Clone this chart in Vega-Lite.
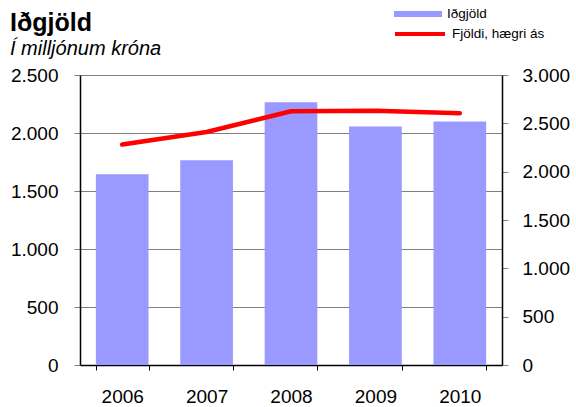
{
  "$schema": "https://vega.github.io/schema/vega-lite/v6.json",
  "width": 422,
  "height": 290,
  "autosize": {"type": "none"},
  "padding": {"left": 80, "top": 75, "right": 74, "bottom": 42},
  "background": "white",
  "config": {
    "view": {"stroke": null},
    "font": "Liberation Sans",
    "axis": {"labelFont": "Liberation Sans", "labelFontSize": 19, "labelColor": "black"},
    "legend": {"labelFont": "Liberation Sans", "labelColor": "black"}
  },
  "title": {
    "text": "Iðgjöld",
    "subtitle": "Í milljónum króna",
    "anchor": "start",
    "frame": "group",
    "dx": -70,
    "dy": 73,
    "offset": 4,
    "font": "Liberation Sans",
    "fontSize": 25,
    "fontWeight": "bold",
    "color": "black",
    "subtitleFont": "Liberation Sans",
    "subtitleFontSize": 20,
    "subtitleFontStyle": "italic",
    "subtitleColor": "black",
    "subtitlePadding": 3
  },
  "data": {
    "values": [
      {"year": "2006", "idgjold": 1645, "fjoldi": 2280},
      {"year": "2007", "idgjold": 1765, "fjoldi": 2410},
      {"year": "2008", "idgjold": 2265, "fjoldi": 2625},
      {"year": "2009", "idgjold": 2055, "fjoldi": 2630},
      {"year": "2010", "idgjold": 2100, "fjoldi": 2605}
    ]
  },
  "encoding": {
    "x": {
      "field": "year",
      "type": "ordinal",
      "scale": {"paddingInner": 0.376, "paddingOuter": 0.188},
      "axis": {
        "title": null,
        "labelAngle": 0,
        "tickBand": "extent",
        "domainColor": "black",
        "domainWidth": 1.5,
        "tickColor": "black",
        "tickSize": 5,
        "labelPadding": 17,
        "grid": false
      }
    }
  },
  "layer": [
    {
      "mark": {"type": "bar", "color": "#9999FF"},
      "encoding": {
        "y": {
          "field": "idgjold",
          "type": "quantitative",
          "scale": {"domain": [0, 2500], "nice": false},
          "axis": {
            "title": null,
            "values": [0, 500, 1000, 1500, 2000, 2500],
            "grid": true,
            "gridColor": "#808080",
            "gridWidth": 1,
            "domainColor": "black",
            "domainWidth": 1.5,
            "tickColor": "#808080",
            "tickSize": 6,
            "labelPadding": 16,
            "labelExpr": "replace(format(datum.value, ','), ',', '.')"
          }
        },
        "color": {
          "datum": "Iðgjöld",
          "type": "nominal",
          "scale": {"range": ["#9999FF"]},
          "legend": {
            "orient": "none",
            "legendX": 314,
            "legendY": -85,
            "title": null,
            "symbolType": "M-1,-0.125H1V0.125H-1Z",
            "symbolSize": 2304,
            "symbolStrokeWidth": 0,
            "labelFontSize": 13.5,
            "labelOffset": 5,
            "padding": 0
          }
        }
      }
    },
    {
      "mark": {"type": "line", "strokeWidth": 4.5, "strokeCap": "round", "strokeJoin": "round"},
      "encoding": {
        "y": {
          "field": "fjoldi",
          "type": "quantitative",
          "scale": {"domain": [0, 3000], "nice": false},
          "axis": {
            "title": null,
            "orient": "right",
            "values": [0, 500, 1000, 1500, 2000, 2500, 3000],
            "grid": false,
            "domainColor": "black",
            "domainWidth": 1.5,
            "tickColor": "#808080",
            "tickSize": 6,
            "labelPadding": 14,
            "labelExpr": "replace(format(datum.value, ','), ',', '.')"
          }
        },
        "stroke": {
          "datum": "Fjöldi, hægri ás",
          "type": "nominal",
          "scale": {"range": ["#FF0000"]},
          "legend": {
            "orient": "none",
            "legendX": 313,
            "legendY": -68,
            "title": null,
            "symbolType": "stroke",
            "symbolSize": 2500,
            "symbolStrokeWidth": 4,
            "labelFontSize": 13.5,
            "labelOffset": 5,
            "padding": 0
          }
        }
      }
    }
  ],
  "resolve": {"scale": {"y": "independent", "color": "independent", "stroke": "independent"}}
}
